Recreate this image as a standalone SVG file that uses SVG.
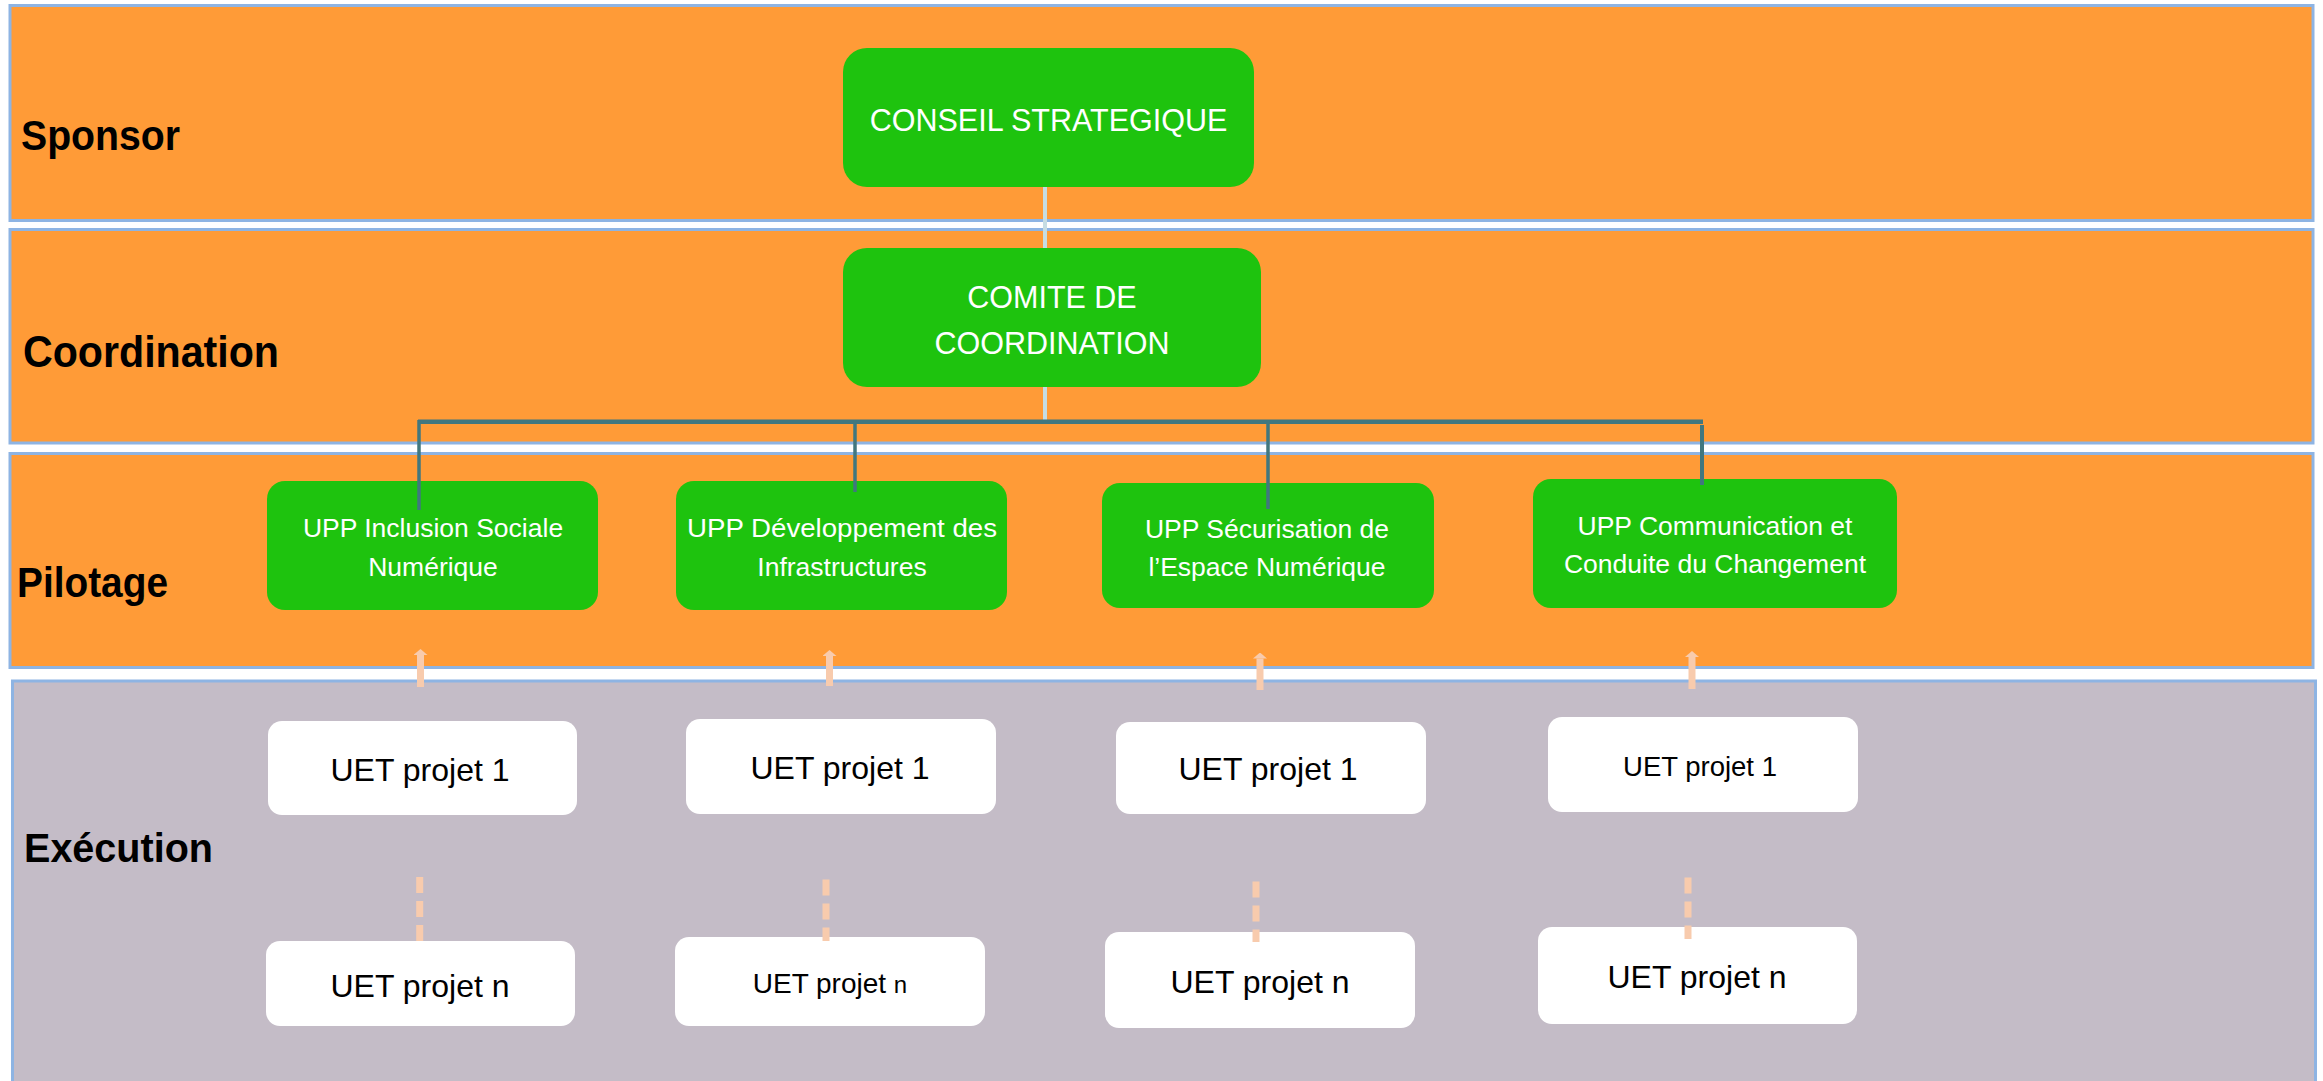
<svg xmlns="http://www.w3.org/2000/svg" width="2323" height="1081" viewBox="0 0 2323 1081">
<style>
.lane{fill:#FF9B37;stroke:#8EB4E3;stroke-width:3}
.lane-ex{fill:#C4BCC7;stroke:#8EB4E3;stroke-width:3}
.lbl{font-family:"Liberation Sans",Arial,sans-serif;font-weight:bold;fill:#000}
.g{fill:#1EC30E}
.w{fill:#FFFFFF}
.gt{font-family:"Liberation Sans",Arial,sans-serif;fill:#FFFFFF;text-anchor:middle}
.wt{font-family:"Liberation Sans",Arial,sans-serif;fill:#000000;text-anchor:middle}
.top{stroke:#C6DDE3;stroke-width:4;fill:none}
.tree{stroke:#41777F;fill:none}
.up{stroke:#F8CBAD;stroke-width:7;fill:none;marker-end:url(#ah)}
.dash{stroke:#F8CBAD;stroke-width:7;fill:none;stroke-dasharray:16 8}
</style>
<defs>
<marker id="ah" viewBox="0 0 6 14" markerWidth="0.857" markerHeight="2" refX="0" refY="7" orient="auto" markerUnits="strokeWidth">
<path d="M0,0 L6,7 L0,14 z" fill="#F8CBAD"/>
</marker>
</defs>
<rect width="2323" height="1081" fill="#FFFFFF"/>
<g id="lanes">
<rect class="lane" x="10" y="5.5" width="2303" height="215"/>
<rect class="lane" x="10" y="229.5" width="2303" height="213.5"/>
<rect class="lane" x="10" y="453.5" width="2303" height="214"/>
<rect class="lane-ex" x="12.5" y="681" width="2303" height="420"/>
<text class="lbl" x="21" y="150" font-size="43" textLength="159" lengthAdjust="spacingAndGlyphs">Sponsor</text>
<text class="lbl" x="23" y="367" font-size="44" textLength="256" lengthAdjust="spacingAndGlyphs">Coordination</text>
<text class="lbl" x="17" y="597" font-size="42" textLength="151" lengthAdjust="spacingAndGlyphs">Pilotage</text>
<text class="lbl" x="24" y="862" font-size="41" textLength="189" lengthAdjust="spacingAndGlyphs">Exécution</text>
</g>
<g id="conseil">
<rect class="g" x="843" y="48" width="411" height="139" rx="24"/>
<text class="gt" x="1048.5" y="131" font-size="30.5">CONSEIL STRATEGIQUE</text>
</g>
<g id="comite">
<rect class="g" x="843" y="248" width="418" height="139" rx="24"/>
<text class="gt" x="1052" y="308" font-size="30.5">COMITE DE</text>
<text class="gt" x="1052" y="354" font-size="30.5">COORDINATION</text>
</g>
<g id="upp1">
<rect class="g" x="267" y="481" width="331" height="129" rx="18"/>
<text class="gt" x="433" y="537" font-size="26.5">UPP Inclusion Sociale</text>
<text class="gt" x="433" y="576" font-size="26.5">Numérique</text>
</g>
<g id="upp2">
<rect class="g" x="676" y="481" width="331" height="129" rx="18"/>
<text class="gt" x="842" y="537" font-size="26.5" textLength="310" lengthAdjust="spacingAndGlyphs">UPP Développement des</text>
<text class="gt" x="842" y="576" font-size="26.5">Infrastructures</text>
</g>
<g id="upp3">
<rect class="g" x="1102" y="483" width="332" height="125" rx="18"/>
<text class="gt" x="1267" y="538" font-size="26.5">UPP Sécurisation de</text>
<text class="gt" x="1267" y="576" font-size="26.5">l’Espace Numérique</text>
</g>
<g id="upp4">
<rect class="g" x="1533" y="479" width="364" height="129" rx="18"/>
<text class="gt" x="1715" y="535" font-size="26.5">UPP Communication et</text>
<text class="gt" x="1715" y="573" font-size="26.5">Conduite du Changement</text>
</g>
<g id="uet1a">
<rect class="w" x="268" y="721" width="309" height="94" rx="14"/>
<text class="wt" x="420" y="781" font-size="32">UET projet 1</text>
</g>
<g id="uet1b">
<rect class="w" x="686" y="719" width="310" height="95" rx="14"/>
<text class="wt" x="840" y="779" font-size="32">UET projet 1</text>
</g>
<g id="uet1c">
<rect class="w" x="1116" y="722" width="310" height="92" rx="14"/>
<text class="wt" x="1268" y="780" font-size="32">UET projet 1</text>
</g>
<g id="uet1d">
<rect class="w" x="1548" y="717" width="310" height="95" rx="14"/>
<text class="wt" x="1700" y="776" font-size="27.5">UET projet 1</text>
</g>
<g id="uetna">
<rect class="w" x="266" y="941" width="309" height="85" rx="14"/>
<text class="wt" x="420" y="997" font-size="32">UET projet n</text>
</g>
<g id="uetnb">
<rect class="w" x="675" y="937" width="310" height="89" rx="14"/>
<text class="wt" x="830" y="993" font-size="28">UET projet <tspan font-size="24">n</tspan></text>
</g>
<g id="uetnc">
<rect class="w" x="1105" y="932" width="310" height="96" rx="14"/>
<text class="wt" x="1260" y="993" font-size="32">UET projet n</text>
</g>
<g id="uetnd">
<rect class="w" x="1538" y="927" width="319" height="97" rx="14"/>
<text class="wt" x="1697" y="988" font-size="32">UET projet n</text>
</g>
<g id="connectors">
<line class="top" x1="1045" y1="187" x2="1045" y2="248"/>
<line class="top" x1="1045" y1="387" x2="1045" y2="420"/>
<line class="tree" x1="418" y1="421.7" x2="1703" y2="421.7" stroke-width="4.5"/>
<line class="tree" x1="419" y1="420" x2="419" y2="510" stroke-width="3.5"/>
<line class="tree" x1="855" y1="420" x2="855" y2="492" stroke-width="3.5"/>
<line class="tree" x1="1268" y1="420" x2="1268" y2="509" stroke-width="3.5"/>
<line class="tree" x1="1702" y1="425" x2="1702" y2="485" stroke-width="4"/>
<line class="up" x1="420.5" y1="687" x2="420.5" y2="655"/>
<line class="up" x1="829.5" y1="686" x2="829.5" y2="656"/>
<line class="up" x1="1260" y1="690" x2="1260" y2="658.5"/>
<line class="up" x1="1692" y1="689" x2="1692" y2="657"/>
<line class="dash" x1="419.7" y1="877" x2="419.7" y2="941"/>
<line class="dash" x1="826" y1="879.5" x2="826" y2="941"/>
<line class="dash" x1="1256" y1="881.5" x2="1256" y2="942"/>
<line class="dash" x1="1688" y1="877.5" x2="1688" y2="939"/>
</g>
</svg>
